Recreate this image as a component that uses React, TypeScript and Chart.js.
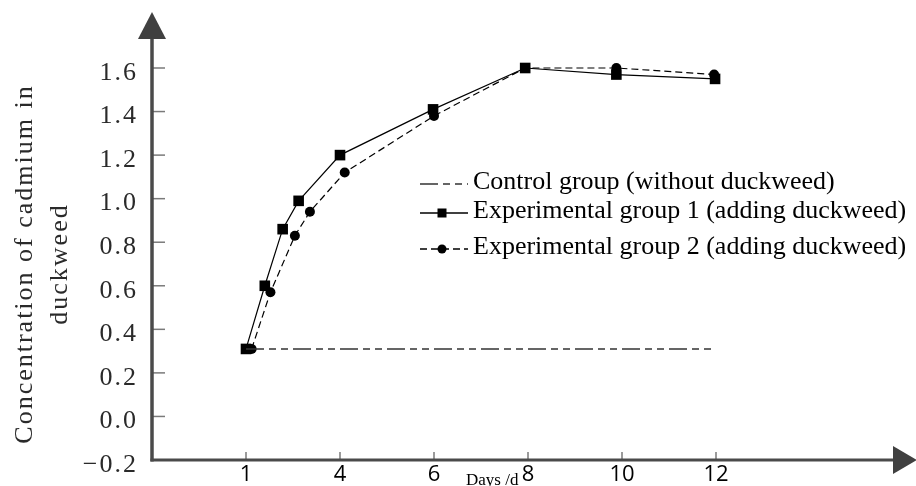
import React, { useEffect, useRef } from 'react';
import { Chart, registerables } from 'chart.js';

Chart.register(...registerables);

// ---- data (x values are axis positions: position i sits on tick xTickLabels[i]) ----
const xTickLabels = ['1', '4', '6', '8', '10', '12'];
const xTickPos = [0, 1, 2, 3, 4, 5];
const yTicks = [-0.2, 0, 0.2, 0.4, 0.6, 0.8, 1.0, 1.2, 1.4, 1.6];

const seriesNames = [
  'Control group (without duckweed)',
  'Experimental group 1 (adding duckweed)',
  'Experimental group 2 (adding duckweed)',
];

const controlX = [0, 1, 2, 3, 4, 5];
const controlY = [0.31, 0.31, 0.31, 0.31, 0.31, 0.31];

const exp1X = [0, 0.2, 0.39, 0.56, 1, 1.99, 2.97, 3.94, 4.99];
const exp1Y = [0.31, 0.6, 0.86, 0.99, 1.2, 1.41, 1.6, 1.57, 1.55];

const exp2X = [0.06, 0.26, 0.52, 0.68, 1.05, 2.0, 2.97, 3.94, 4.98];
const exp2Y = [0.31, 0.57, 0.83, 0.94, 1.12, 1.38, 1.6, 1.6, 1.57];

const yTitleLines = ['Concentration of cadmium in', 'duckweed'];
const xTitle = 'Days /d';

const controlDash = [18, 5, 7, 5, 7, 5];
const exp2Dash = [7, 4];

const toPts = (xs: number[], ys: number[]) => xs.map((x, i) => ({ x, y: ys[i] }));

const decorPlugin = {
  id: 'decor',
  afterDraw(chart: any) {
    const { ctx } = chart;
    const xs = chart.scales.x;
    const ys = chart.scales.y;
    const x0 = xs.getPixelForValue(xs.min);
    const y0 = ys.getPixelForValue(ys.min);
    ctx.save();

    // tick marks
    ctx.strokeStyle = '#7a7a7a';
    ctx.lineWidth = 1.5;
    yTicks.forEach((v) => {
      if (v === ys.min) return;
      const py = ys.getPixelForValue(v);
      ctx.beginPath();
      ctx.moveTo(x0, py);
      ctx.lineTo(x0 + 13, py);
      ctx.stroke();
    });
    xTickPos.forEach((p) => {
      const px = xs.getPixelForValue(p);
      ctx.beginPath();
      ctx.moveTo(px, y0);
      ctx.lineTo(px, y0 - 8);
      ctx.stroke();
    });

    // axes lines
    ctx.strokeStyle = '#4a4a4a';
    ctx.lineWidth = 3.5;
    ctx.beginPath();
    ctx.moveTo(x0, y0 + 1.5);
    ctx.lineTo(x0, 36);
    ctx.stroke();
    ctx.lineWidth = 3;
    ctx.beginPath();
    ctx.moveTo(x0 - 1.5, y0);
    ctx.lineTo(895, y0);
    ctx.stroke();

    // arrows
    ctx.fillStyle = '#404040';
    ctx.beginPath();
    ctx.moveTo(x0 - 14, 39);
    ctx.lineTo(x0 + 14, 39);
    ctx.lineTo(x0, 12);
    ctx.closePath();
    ctx.fill();
    ctx.beginPath();
    ctx.moveTo(893, y0 - 14);
    ctx.lineTo(893, y0 + 14);
    ctx.lineTo(917, y0);
    ctx.closePath();
    ctx.fill();

    // y tick labels
    ctx.fillStyle = '#2a2a2a';
    ctx.font = '26px "Liberation Serif"';
    (ctx as any).letterSpacing = '2px';
    ctx.textAlign = 'right';
    ctx.textBaseline = 'middle';
    yTicks.forEach((v) => {
      const py = ys.getPixelForValue(v);
      const s = (v < 0 ? '\u2212' : '') + Math.abs(v).toFixed(1);
      ctx.fillText(s, 138, py + 5);
    });

    // y title (rotated)
    ctx.textAlign = 'center';
    ctx.textBaseline = 'alphabetic';
    const cy = (ys.getPixelForValue(ys.max) + y0) / 2;
    const baselines = [32, 67];
    yTitleLines.forEach((line, i) => {
      ctx.save();
      ctx.translate(baselines[i], cy);
      ctx.rotate(-Math.PI / 2);
      ctx.fillText(line, 0, 0);
      ctx.restore();
    });
    (ctx as any).letterSpacing = '0px';

    // x tick labels
    ctx.fillStyle = '#000';
    ctx.font = '22px "Open Sans"';
    ctx.textAlign = 'center';
    ctx.textBaseline = 'alphabetic';
    xTickPos.forEach((p, i) => {
      ctx.fillText(xTickLabels[i], xs.getPixelForValue(p), 481);
    });

    // x title
    ctx.font = '17px "Liberation Serif"';
    ctx.textAlign = 'left';
    ctx.fillText(xTitle, 466, 485);

    // legend
    const rowsY = [184, 213, 249];
    const lx0 = 420;
    const lx1 = 468;
    ctx.font = '26px "Liberation Serif"';
    ctx.fillStyle = '#000';
    ctx.strokeStyle = '#000';
    chart.data.datasets.forEach((ds: any, i: number) => {
      const ly = rowsY[i];
      ctx.save();
      ctx.lineWidth = 1.3;
      ctx.strokeStyle = ds.borderColor;
      ctx.setLineDash(ds.borderDash || []);
      ctx.beginPath();
      ctx.moveTo(lx0, ly);
      ctx.lineTo(lx1, ly);
      ctx.stroke();
      ctx.restore();
      const mx = 442;
      if (ds.pointStyle === 'rect' && ds.pointRadius > 0) {
        ctx.fillRect(mx - 4.5, ly - 4.5, 9, 9);
      } else if (ds.pointStyle === 'circle' && ds.pointRadius > 0) {
        ctx.beginPath();
        ctx.arc(mx, ly, 4.5, 0, Math.PI * 2);
        ctx.fill();
      }
      ctx.fillStyle = '#000';
      ctx.fillText(ds.label, 473, ly + 5);
    });

    ctx.restore();
  },
};

export default function App() {
  const ref = useRef<HTMLCanvasElement>(null);

  useEffect(() => {
    document.body.style.margin = '0';
    const canvas = ref.current;
    if (!canvas) return;
    const chart = new Chart(canvas, {
      type: 'scatter',
      data: {
        datasets: [
          {
            label: seriesNames[0],
            data: toPts(controlX, controlY),
            showLine: true,
            borderColor: '#333',
            borderWidth: 1.5,
            borderDash: controlDash,
            pointRadius: 0,
            pointStyle: 'line',
            clip: false,
          } as any,
          {
            label: seriesNames[1],
            data: toPts(exp1X, exp1Y),
            showLine: true,
            borderColor: '#000',
            borderWidth: 1.2,
            pointStyle: 'rect',
            pointRadius: 7.5,
            pointBackgroundColor: '#000',
            pointBorderWidth: 0,
            clip: false,
          } as any,
          {
            label: seriesNames[2],
            data: toPts(exp2X, exp2Y),
            showLine: true,
            borderColor: '#000',
            borderWidth: 1.2,
            borderDash: exp2Dash,
            pointStyle: 'circle',
            pointRadius: 5,
            pointBackgroundColor: '#000',
            pointBorderWidth: 0,
            clip: false,
          } as any,
        ],
      },
      options: {
        animation: false,
        responsive: false,
        layout: { padding: { left: 152, right: 200, top: 68, bottom: 26 } },
        scales: {
          x: { type: 'linear', min: -1, max: 5, display: false },
          y: { type: 'linear', min: -0.2, max: 1.6, display: false },
        },
        plugins: {
          legend: { display: false },
          tooltip: { enabled: false },
        },
      },
      plugins: [decorPlugin],
    });
    return () => chart.destroy();
  }, []);

  return (
    <div style={{ width: 916, height: 486 }}>
      <canvas ref={ref} width={916} height={486} style={{ display: 'block' }} />
    </div>
  );
}
